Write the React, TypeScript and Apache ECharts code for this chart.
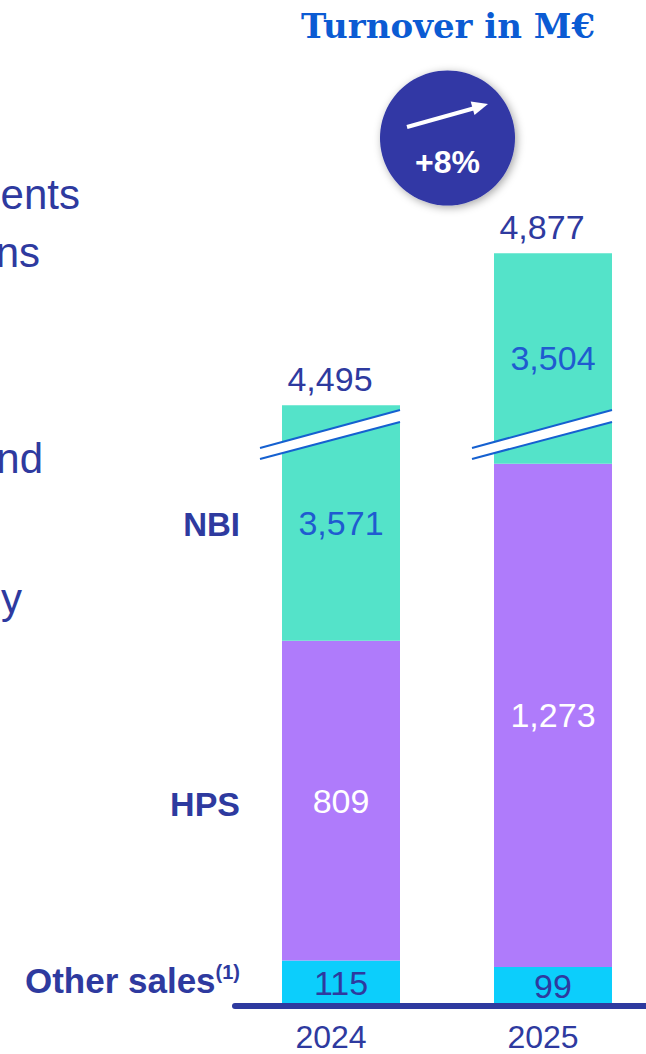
import React, { useEffect, useRef } from "react";
import * as echarts from "echarts";

const years = ["2024", "2025"];
const otherSales = [115, 99];
const hps = [809, 1273];
const nbi = [3571, 3504];
// NBI drawn on a broken axis: shown height (in axis units) of the visible NBI part
const nbiShown = [596, 533];
const totals = [4495, 4877];
const breakLevel = 1445;
const growthLabel = "+8%";
const leftFragments = ["ents", "ns", "nd", "y"];
const rowLabels = ["NBI", "HPS", "Other sales"];

const DARK = "#2E3A9F";
const SANS = '"Liberation Sans", Arial, sans-serif';
const fmt = (v: number) => Number(v).toLocaleString("en-US");

export default function App() {
  const ref = useRef<HTMLDivElement>(null);
  useEffect(() => {
    if (!ref.current) return;
    const chart = echarts.init(ref.current, null, { renderer: "svg" });
    const labelBase = { show: true, position: "inside", fontSize: 34, fontFamily: SANS };
    chart.setOption({
      animation: false,
      grid: { left: 235, width: 424, top: 18, bottom: 48 },
      xAxis: {
        type: "category",
        data: years,
        z: 5,
        axisLine: { show: true, lineStyle: { color: DARK, width: 6 } },
        axisTick: { show: false },
        axisLabel: { color: DARK, fontSize: 32, fontFamily: SANS, margin: 15, padding: [0, 20, 0, 0] },
      },
      yAxis: { type: "value", min: 0, max: 2500, show: false, splitLine: { show: false } },
      series: [
        {
          type: "bar",
          stack: "t",
          barWidth: 118,
          data: otherSales,
          itemStyle: { color: "#0CCEFC" },
          label: { ...labelBase, color: DARK, formatter: (p: any) => fmt(otherSales[p.dataIndex]) },
        },
        {
          type: "bar",
          stack: "t",
          barWidth: 118,
          data: hps,
          itemStyle: { color: "#AF7BFB" },
          label: { ...labelBase, color: "#FFFFFF", formatter: (p: any) => fmt(hps[p.dataIndex]) },
        },
        {
          type: "bar",
          stack: "t",
          barWidth: 118,
          data: nbiShown,
          itemStyle: { color: "#54E3C9" },
          label: { ...labelBase, color: "#1F5BD0", formatter: (p: any) => fmt(nbi[p.dataIndex]) },
        },
        {
          type: "custom",
          z: 10,
          clip: false,
          data: years.map((_, i) => [i, breakLevel]),
          renderItem: (params: any, api: any) => {
            const p = api.coord([api.value(0), api.value(1)]);
            const cx = p[0];
            const cy = p[1];
            const L = cx - 81;
            const R = cx + 59;
            return {
              type: "group",
              children: [
                {
                  type: "polygon",
                  shape: { points: [[L, cy + 13], [R, cy - 25], [R, cy - 13], [L, cy + 24]] },
                  style: { fill: "#FFFFFF" },
                },
                {
                  type: "line",
                  shape: { x1: L, y1: cy + 13, x2: R, y2: cy - 25 },
                  style: { stroke: "#1560D0", lineWidth: 2 },
                },
                {
                  type: "line",
                  shape: { x1: L, y1: cy + 24, x2: R, y2: cy - 13 },
                  style: { stroke: "#1560D0", lineWidth: 2 },
                },
              ],
            };
          },
        },
        {
          type: "custom",
          z: 10,
          clip: false,
          data: years.map((_, i) => [i, otherSales[i] + hps[i] + nbiShown[i], totals[i]]),
          renderItem: (params: any, api: any) => {
            const p = api.coord([api.value(0), api.value(1)]);
            return {
              type: "text",
              x: p[0] - 11,
              y: p[1] - 9,
              style: {
                text: fmt(api.value(2)),
                fill: DARK,
                fontSize: 34,
                fontFamily: SANS,
                align: "center",
                verticalAlign: "bottom",
              },
            };
          },
        },
      ],
      graphic: [
        {
          type: "text",
          x: 448,
          y: 26,
          style: {
            text: "Turnover in M€",
            fill: "#0B5BD3",
            fontSize: 34,
            fontWeight: "bold",
            fontFamily: '"DejaVu Serif", serif',
            align: "center",
            verticalAlign: "middle",
          },
        },
        {
          type: "circle",
          shape: { cx: 447.5, cy: 138, r: 67.5 },
          style: {
            fill: "#3037A5",
            shadowBlur: 8,
            shadowColor: "rgba(0,0,0,0.35)",
            shadowOffsetX: 2,
            shadowOffsetY: 2,
          },
        },
        {
          type: "line",
          shape: { x1: 407, y1: 127, x2: 475, y2: 108 },
          style: { stroke: "#FFFFFF", lineWidth: 4 },
        },
        {
          type: "polygon",
          shape: { points: [[488, 104], [474.5, 114.9], [470.7, 101.5]] },
          style: { fill: "#FFFFFF" },
        },
        {
          type: "text",
          x: 447.5,
          y: 162,
          style: {
            text: growthLabel,
            fill: "#FFFFFF",
            fontSize: 32,
            fontWeight: "bold",
            fontFamily: SANS,
            align: "center",
            verticalAlign: "middle",
          },
        },
        ...[
          [80, 194],
          [40, 252],
          [43, 458],
          [22, 598],
        ].map(([x, y], i) => ({
          type: "text",
          x,
          y,
          style: {
            text: leftFragments[i],
            fill: DARK,
            fontSize: 42,
            fontFamily: SANS,
            align: "right",
            verticalAlign: "middle",
          },
        })),
        {
          type: "text",
          x: 240,
          y: 524,
          style: { text: rowLabels[0], fill: DARK, fontSize: 33, fontWeight: "bold", fontFamily: SANS, align: "right", verticalAlign: "middle" },
        },
        {
          type: "text",
          x: 240,
          y: 804,
          style: { text: rowLabels[1], fill: DARK, fontSize: 34, fontWeight: "bold", fontFamily: SANS, align: "right", verticalAlign: "middle" },
        },
        {
          type: "text",
          x: 240,
          y: 980,
          style: {
            text: "{a|" + rowLabels[2] + "}{s|(1)}",
            align: "right",
            verticalAlign: "middle",
            rich: {
              a: { fill: DARK, fontSize: 35, fontWeight: "bold", fontFamily: SANS },
              s: { fill: DARK, fontSize: 20, fontWeight: "bold", fontFamily: SANS, verticalAlign: "top", padding: [0, 0, 16, 0] },
            },
          },
        },
      ],
    });
    return () => chart.dispose();
  }, []);
  return (
    <div
      ref={ref}
      style={{ position: "fixed", left: 0, top: 0, width: 680, height: 1054, background: "#FFFFFF" }}
    />
  );
}
